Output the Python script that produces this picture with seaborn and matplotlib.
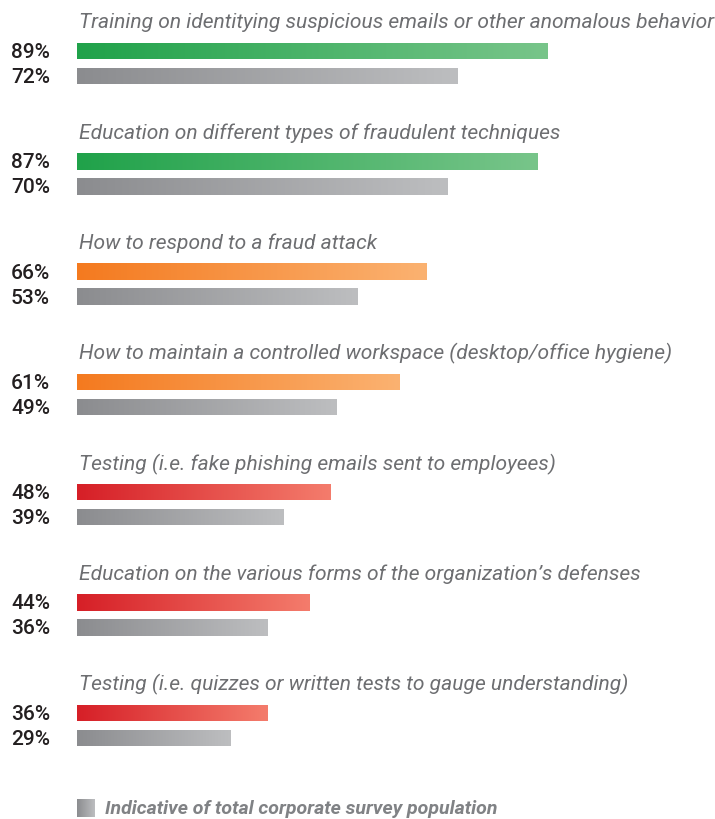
import numpy as np
import pandas as pd
import seaborn as sns
import matplotlib
matplotlib.use("Agg")
import matplotlib.pyplot as plt
from matplotlib.colors import LinearSegmentedColormap

categories = [
    "Training on identitying suspicious emails or other anomalous behavior",
    "Education on different types of fraudulent techniques",
    "How to respond to a fraud attack",
    "How to maintain a controlled workspace (desktop/office hygiene)",
    "Testing (i.e. fake phishing emails sent to employees)",
    "Education on the various forms of the organization\u2019s defenses",
    "Testing (i.e. quizzes or written tests to gauge understanding)",
]
segment_values = [89, 87, 66, 61, 48, 44, 36]
total_values = [72, 70, 53, 49, 39, 36, 29]
legend_label = "Indicative of total corporate survey population"

grad_green = ("#20a24a", "#78c58a")
grad_orange = ("#f47a1f", "#fbb271")
grad_red = ("#d61f27", "#f47c6c")
grad_gray = ("#8b8c8f", "#bdbec0")
bar_grads = [grad_green, grad_green, grad_orange, grad_orange, grad_red, grad_red, grad_red]

sns.set_theme(style="white")
plt.rcParams["font.family"] = ["Roboto", "DejaVu Sans"]

W, H = 715, 820
fig = plt.figure(figsize=(W / 100, H / 100), dpi=100)
ax = fig.add_axes([0, 0, 1, 1])

s = 5.29      # pixels per percent
x0 = 77       # pixel of 0%
def px(xp):
    return (xp - x0) / s

group_step = 110.3
first_center = 52.0
pair_gap = 25.0

rows = []
for i, (cat, a, b) in enumerate(zip(categories, segment_values, total_values)):
    yc = first_center + group_step * i
    rows.append({"pos": yc, "value": a, "series": "segment", "g": i})
    rows.append({"pos": yc + pair_gap, "value": b, "series": "total", "g": i})
df = pd.DataFrame(rows)

sns.barplot(data=df, x="value", y="pos", orient="h", native_scale=True,
            width=16.5 / pair_gap, color="#cccccc", ax=ax, errorbar=None,
            saturation=1, edgecolor="none", linewidth=0)

ax.set_xlim(px(0), px(W))
ax.set_ylim(H, 0)
ax.axis("off")

grad = np.linspace(0, 1, 256).reshape(1, -1)
for p in ax.patches:
    yc = p.get_y() + p.get_height() / 2
    idx = int(np.argmin(np.abs(df["pos"].values - yc)))
    r = df.iloc[idx]
    cols = bar_grads[r["g"]] if r["series"] == "segment" else grad_gray
    cmap = LinearSegmentedColormap.from_list("g", list(cols))
    x1 = p.get_x() + p.get_width()
    im = ax.imshow(grad, cmap=cmap, aspect="auto", interpolation="bicubic",
                   extent=(p.get_x(), x1, p.get_y() + p.get_height(), p.get_y()),
                   zorder=3)
    im.set_clip_path(p)
    ax.text(px(11), yc + 0.5, f"{int(r['value'])}%", ha="left", va="center",
            fontsize=15, color="#231f20", fontweight="medium")

ax.set_xlim(px(0), px(W))
ax.set_ylim(H, 0)

for i, cat in enumerate(categories):
    yc = first_center + group_step * i
    ax.text(px(79), yc - 29, cat, ha="left", va="center", fontsize=15.1,
            style="italic", color="#6d6e71")

# legend
cmap = LinearSegmentedColormap.from_list("lg", list(grad_gray))
ax.imshow(grad, cmap=cmap, aspect="auto", extent=(px(77), px(95), 818, 800), zorder=3)
ax.text(px(105), 809.5, legend_label, ha="left", va="center", fontsize=14,
        style="italic", fontweight="bold", color="#808285")
ax.set_xlim(px(0), px(W))
ax.set_ylim(H, 0)

fig.savefig("out.png", dpi=100)
